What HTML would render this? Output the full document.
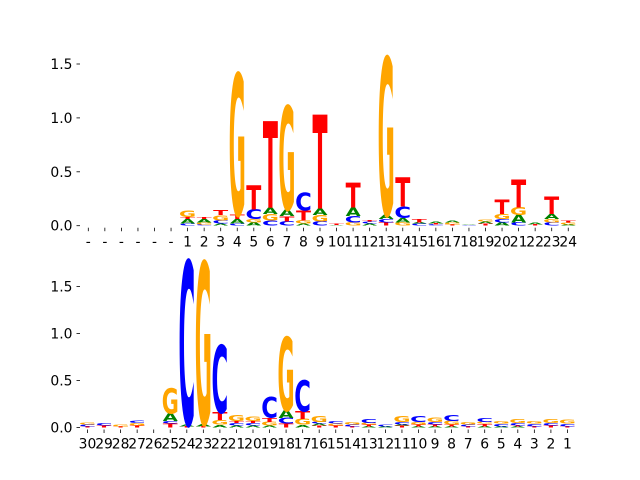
<!DOCTYPE html>
<html><head><meta charset="utf-8"><style>
html,body{margin:0;padding:0;background:#fff;}
svg{display:block;font-family:"DejaVu Sans","Liberation Sans",sans-serif;}
</style></head><body>
<svg id="chart" width="640" height="480" viewBox="0 0 640 480" xmlns="http://www.w3.org/2000/svg">
<g id="top"></g>
<g id="bot"></g>
</svg>
<script>
// Top panel data: columns of [letter, height] stacked bottom-up
const topLabels = ["-","-","-","-","-","-","1","2","3","4","5","6","7","8","9","10","11","12","13","14","15","16","17","18","19","20","21","22","23","24"];
const topColumns = [
 [],[],[],[],[],[],
 [["C",.02],["A",.04],["T",.02],["G",.06]],
 [["C",.01],["G",.02],["A",.03],["T",.02]],
 [["A",.02],["C",.03],["G",.05],["T",.05]],
 [["C",.02],["A",.04],["T",.04],["G",1.31]],
 [["A",.03],["G",.03],["C",.09],["T",.22]],
 [["C",.05],["G",.06],["A",.06],["T",.80]],
 [["C",.04],["T",.05],["A",.06],["G",.96]],
 [["A",.02],["G",.03],["T",.09],["C",.17]],
 [["C",.04],["G",.06],["A",.06],["T",.87]],
 [["A",.005],["T",.01]],
 [["G",.03],["C",.06],["A",.08],["T",.23]],
 [["A",.02],["C",.02],["T",.01]],
 [["T",.03],["C",.03],["A",.04],["G",1.46]],
 [["G",.03],["A",.04],["C",.11],["T",.27]],
 [["C",.02],["A",.01],["T",.03]],
 [["C",.01],["T",.01],["A",.02]],
 [["T",.01],["G",.02],["A",.02]],
 [["C",.005],["A",.005]],
 [["T",.02],["A",.02],["G",.02]],
 [["A",.03],["C",.03],["G",.05],["T",.13]],
 [["C",.03],["A",.07],["G",.07],["T",.26]],
 [["T",.01],["A",.02]],
 [["C",.03],["G",.03],["A",.05],["T",.16]],
 [["A",.01],["G",.02],["T",.02]]
];
const topTicks = [0, 0.5, 1.0, 1.5];
const topTickLabels = ["0.0","0.5","1.0","1.5"];

// Bottom panel data
const botLabels = ["30","29","28","27","26","25","24","23","22","21","20","19","18","17","16","15","14","13","12","11","10","9","8","7","6","5","4","3","2","1"];
const botColumns = [
 [["T",.01],["C",.02],["G",.02]],
 [["T",.02],["C",.03]],
 [["T",.01],["G",.02]],
 [["T",.02],["G",.03],["C",.03]],
 [],
 [["T",.04],["C",.03],["A",.08],["G",.27]],
 [["T",.01],["A",.02],["C",1.74]],
 [["T",.01],["A",.03],["G",1.72]],
 [["A",.03],["G",.05],["T",.08],["C",.72]],
 [["A",.02],["C",.03],["T",.02],["G",.06]],
 [["A",.02],["C",.03],["T",.02],["G",.05]],
 [["A",.02],["G",.04],["T",.04],["C",.22]],
 [["T",.04],["C",.06],["A",.08],["G",.78]],
 [["A",.03],["G",.06],["T",.08],["C",.33]],
 [["T",.02],["A",.02],["C",.02],["G",.06]],
 [["T",.02],["G",.02],["C",.03]],
 [["T",.01],["C",.02],["G",.03]],
 [["A",.01],["T",.02],["G",.02],["C",.04]],
 [["A",.01],["C",.02]],
 [["T",.02],["A",.01],["C",.03],["G",.06]],
 [["A",.01],["T",.02],["G",.03],["C",.06]],
 [["A",.01],["T",.02],["C",.03],["G",.05]],
 [["A",.01],["T",.02],["G",.04],["C",.06]],
 [["T",.01],["C",.02],["G",.03]],
 [["A",.01],["T",.03],["G",.02],["C",.04]],
 [["A",.01],["C",.03],["G",.03]],
 [["A",.01],["T",.01],["C",.03],["G",.04]],
 [["T",.01],["C",.03],["G",.03]],
 [["T",.02],["C",.03],["G",.04]],
 [["T",.01],["C",.03],["G",.04]]
];
const botTicks = [0, 0.5, 1.0, 1.5];
const botTickLabels = ["0.0","0.5","1.0","1.5"];

const NS = "http://www.w3.org/2000/svg";
const COLORS = {A:"#008000",C:"#0000ff",G:"#ffa500",T:"#ff0000"};
const INK = {A:77,C:66,G:72,T:68};
const CAP = 72.9;

function mk(tag, attrs, parent){
  const e = document.createElementNS(NS, tag);
  for (const k in attrs) e.setAttribute(k, attrs[k]);
  parent.appendChild(e);
  return e;
}

function drawPanel(g, columns, labels, ticks, tickLabels, x0, step, y0, pxPerUnit, prefix){
  const xScale = i => x0 + step * i;
  const yScale = v => y0 - v * pxPerUnit;
  const letterW = 15;
  // y ticks
  ticks.forEach((t, i) => {
    const y = yScale(t);
    const ln = mk("line", {x1:76.5, x2:80, y1:y, y2:y, stroke:"#000", "stroke-width":0.8}, g);
    
    
    const tx = mk("text", {x:72.5, y:y+5, "text-anchor":"end", "font-size":13.9, fill:"#000"}, g);
    tx.textContent = tickLabels[i];
    
    
  });
  // x ticks and labels
  labels.forEach((lab, i) => {
    const x = xScale(i);
    const ln = mk("line", {x1:x, x2:x, y1:y0+2, y2:y0+5.5, stroke:"#000", "stroke-width":0.8}, g);
    
    
    const tx = mk("text", {x:x, y:y0+21, "text-anchor":"middle", "font-size":13.9, fill:"#000"}, g);
    tx.textContent = lab;
    
    
  });
  // letters
  columns.forEach((col, i) => {
    const cx = xScale(i);
    let cum = 0;
    col.forEach(([L, h]) => {
      const yb = yScale(cum);
      const hp = h * pxPerUnit;
      cum += h;
      if (hp <= 0) return;
      const sx = letterW / INK[L];
      const sy = hp / CAP;
      const t = mk("text", {x:0, y:0, "text-anchor":"middle", "font-size":100, "font-weight":"bold",
        fill:COLORS[L], transform:`translate(${cx},${yb}) scale(${sx},${sy})`}, g);
      t.textContent = L;
      
      
    });
  });
}

drawPanel(document.getElementById("top"), topColumns, topLabels, topTicks, topTickLabels, 88.3, 16.55, 225.7, 107.8, "top");
drawPanel(document.getElementById("bot"), botColumns, botLabels, botTicks, botTickLabels, 87.5, 16.55, 427.5, 94, "bottom");
</script>
</body></html>
